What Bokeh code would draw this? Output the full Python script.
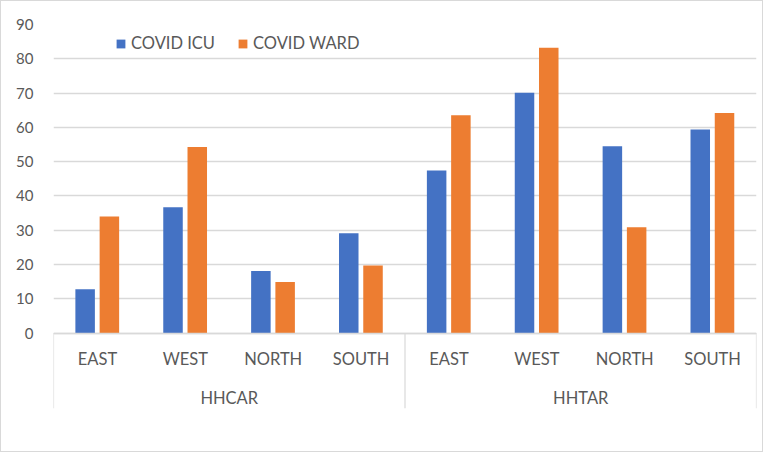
from bokeh.plotting import figure
from bokeh.models import FactorRange, FixedTicker, ColumnDataSource, Legend, LegendItem
from bokeh.transform import dodge
from bokeh.embed import file_html
from bokeh.resources import INLINE

groups = ["HHCAR", "HHTAR"]
regions = ["EAST", "WEST", "NORTH", "SOUTH"]
icu_hhcar = [12.8, 36.7, 18.1, 29.1]
ward_hhcar = [34.0, 54.3, 14.9, 19.7]
icu_hhtar = [47.4, 70.1, 54.5, 59.4]
ward_hhtar = [63.5, 83.2, 30.9, 64.2]
y_ticks = [0, 10, 20, 30, 40, 50, 60, 70, 80, 90]

factors = [(g, r) for g in groups for r in regions]
src = ColumnDataSource(data=dict(
    x=factors,
    icu=icu_hhcar + icu_hhtar,
    ward=ward_hhcar + ward_hhtar,
))

BLUE = "#4472C4"
ORANGE = "#ED7D31"
GRID = "#D9D9D9"
TEXT = "#595959"
FONT = "Lato"

xr = FactorRange(factors=factors, range_padding=0, group_padding=0, factor_padding=0, subgroup_padding=0)
p = figure(width=763, height=452, x_range=xr, y_range=(-22, 90),
           output_backend="svg", toolbar_location=None,
           min_border_left=52, min_border_right=8, min_border_top=23, min_border_bottom=45)
p.outline_line_color = None
p.xgrid.visible = False
p.styles = {"border": "1px solid #D9D9D9", "box-sizing": "border-box"}

r1 = p.vbar(x=dodge("x", -0.14, range=p.x_range), top="icu", width=0.222, source=src,
            fill_color=BLUE, line_color=None)
r2 = p.vbar(x=dodge("x", 0.136, range=p.x_range), top="ward", width=0.222, source=src,
            fill_color=ORANGE, line_color=None)

# separators below the category axis
sep_x = [(groups[0], regions[0], -0.5), (groups[1], regions[0], -0.5), (groups[1], regions[-1], 0.5)]
p.segment(x0=sep_x, y0=[0, 0, 0], x1=sep_x, y1=[-22, -22, -22], line_color=GRID, line_width=1.2)

yax = p.yaxis[0]
yax.ticker = FixedTicker(ticks=y_ticks)
yax.axis_line_color = None
yax.major_tick_line_color = None
yax.minor_tick_line_color = None
yax.major_tick_out = 0
yax.major_tick_in = 0
yax.major_label_standoff = 20
yax.major_label_text_font = FONT
yax.major_label_text_font_size = "15px"
yax.major_label_text_color = TEXT
p.ygrid.ticker = FixedTicker(ticks=y_ticks)
p.ygrid.grid_line_color = GRID
p.ygrid.grid_line_width = 1.3

xax = p.xaxis[0]
xax.fixed_location = 0
xax.axis_line_color = GRID
xax.axis_line_width = 1.3
xax.major_tick_line_color = None
xax.minor_tick_line_color = None
xax.major_tick_out = 0
xax.major_tick_in = 0
xax.major_label_standoff = 16
xax.major_label_text_font = FONT
xax.major_label_text_font_size = "16.5px"
xax.major_label_text_color = TEXT
xax.group_text_font = FONT
xax.group_text_font_size = "16.5px"
xax.group_text_font_style = "normal"
xax.group_text_color = TEXT
xax.separator_line_alpha = 0

legend = Legend(items=[LegendItem(label="COVID ICU", renderers=[r1]),
                       LegendItem(label="COVID WARD", renderers=[r2])],
                orientation="horizontal", location=(62, 355),
                glyph_width=11, glyph_height=11, label_height=20, label_standoff=5,
                spacing=22, padding=0, margin=0,
                background_fill_alpha=0, border_line_color=None,
                label_text_font=FONT, label_text_font_size="16.5px", label_text_color=TEXT)
p.add_layout(legend, "center")

open("out.html", "w").write(file_html(p, INLINE))
